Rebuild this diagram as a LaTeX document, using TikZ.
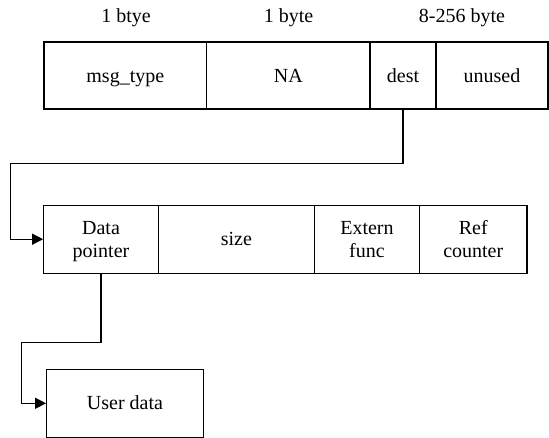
\documentclass[tikz,border=0pt]{standalone}
\usepackage{fontspec}
\setmainfont{Liberation Serif}
\usetikzlibrary{arrows.meta}
\begin{document}
\begin{tikzpicture}[x=1pt,y=-1pt,
  cell/.style={draw, line width=1.3pt, inner sep=0pt, align=center, font=\fontsize{20}{23}\selectfont},
  one/.style={text height=13.2pt, text depth=0pt},
  two/.style={text depth=0pt},
  lbl/.style={inner sep=0pt, anchor=base, font=\fontsize{20}{23}\selectfont},
  conn/.style={line width=1.3pt, -{Triangle[length=11pt,width=11pt]}}]
\useasboundingbox (0,0) rectangle (549,438);
% top labels
\node[lbl] (l1) at (126,22.7) {1 btye};
\node[lbl] (l2) at (288.5,22.7) {1 byte};
\node[lbl] (l3) at (462,22.7) {8-256 byte};
% top row
\node[cell, one, minimum width=162.8pt, minimum height=67pt] (mt) at (125.3,75.5) {msg\_type};
\node[cell, one, minimum width=163.4pt, minimum height=67pt] (na) at (288.3,75.5) {NA};
\node[cell, one, minimum width=66pt, minimum height=67pt] (dest) at (403,75.5) {dest};
\node[cell, one, minimum width=112pt, minimum height=67pt] (un) at (492,75.5) {unused};
% second row
\node[cell, two, minimum width=114.5pt, minimum height=68pt] (dp) at (101,239.2) {Data\\pointer};
\node[cell, one, minimum width=156.1pt, minimum height=68pt] (sz) at (236.35,239.2) {size};
\node[cell, two, minimum width=105.1pt, minimum height=68pt] (ef) at (366.95,239.2) {Extern\\func};
\node[cell, two, minimum width=107.5pt, minimum height=68pt] (rc) at (473.25,239.2) {Ref\\counter};
% user data
\node[cell, one, minimum width=156.6pt, minimum height=68pt] (ud) at (125,403.3) {User data};
% connectors
\coordinate (c1) at (10.5,163.3);
\coordinate (c2) at (21.7,342.3);
\draw[conn] (dest.south) |- (c1) |- (dp.west);
\draw[conn] (dp.south) |- (c2) |- (ud.west);
\end{tikzpicture}
\end{document}
